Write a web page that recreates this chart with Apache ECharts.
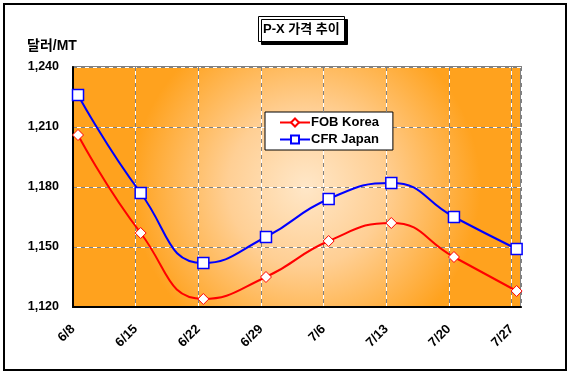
<!DOCTYPE html>
<html>
<head>
<meta charset="utf-8">
<script src="https://cdn.jsdelivr.net/npm/echarts@6/dist/echarts.min.js"></script>
<style>
html,body{margin:0;padding:0;background:#fff;}
#chart{width:573px;height:375px;}
</style>
</head>
<body>
<div id="chart"></div>
<script>
var categories = ['6/8','6/15','6/22','6/29','7/6','7/13','7/20','7/27'];
var fobKorea = [1206, 1157, 1124, 1135, 1153, 1162, 1145, 1128];
var cfrJapan = [1226, 1177, 1142, 1155, 1174, 1182, 1165, 1149];
var yTicks = [1120, 1150, 1180, 1210, 1240];
var titleText = 'P-X 가격 추이';
var unitText = '달러/MT';

var FONT = '"Liberation Sans", Arial, "Noto Sans CJK KR", sans-serif';
var xMin = -0.08, xMax = categories.length - 1 + 0.07;

function toPairs(arr){ return arr.map(function(v,i){ return [i, v]; }); }

var chart = echarts.init(document.getElementById('chart'), null, {renderer:'canvas'});
chart.setOption({
  animation:false,
  backgroundColor:'#fff',
  title:{
    text:titleText, left:258, top:16, padding:[5,5],
    backgroundColor:'#fff', borderColor:'#000', borderWidth:1,
    shadowColor:'#000', shadowBlur:0, shadowOffsetX:3, shadowOffsetY:3,
    textStyle:{fontFamily:FONT, fontSize:13, fontWeight:'bold', color:'#000', lineHeight:16}
  },
  legend:{
    orient:'vertical', left:265, top:112, padding:[4,14,4,14],
    backgroundColor:'#fff', borderColor:'#000', borderWidth:1,
    itemWidth:30, itemHeight:10, itemGap:4,
    textStyle:{fontFamily:FONT, fontSize:13, fontWeight:'bold', color:'#000', padding:[0,0,0,-4]},
    data:['FOB Korea','CFR Japan']
  },
  grid:{
    left:73, top:67, right:52, bottom:68, show:true,
    borderColor:'#808080', borderWidth:2,
    backgroundColor:{type:'radial', x:0.52, y:0.5, r:0.72,
      colorStops:[{offset:0,color:'#FFE7C8'},{offset:0.45,color:'#FFCF94'},{offset:1,color:'#FFA21E'}]}
  },
  xAxis:[{
    type:'value', min:xMin, max:xMax, interval:1, z:3,
    axisLine:{show:true, onZero:false, lineStyle:{color:'#000', width:2}},
    axisTick:{show:false},
    axisLabel:{rotate:45, margin:20, showMaxLabel:false, fontFamily:FONT, fontSize:13, fontWeight:'bold', color:'#000',
      formatter:function(v){ var i=Math.round(v - xMin); return categories[i] || ''; }},
    splitLine:{show:true, lineStyle:{color:'#808080', width:1, type:[4,4]}}
  },{
    type:'value', min:xMin, max:xMax, interval:1, z:1,
    axisLine:{show:false}, axisTick:{show:false}, axisLabel:{show:false},
    splitLine:{show:true, lineStyle:{color:'#fff', width:1, type:'solid'}}
  }],
  yAxis:[{
    type:'value', min:yTicks[0], max:yTicks[yTicks.length-1], interval:yTicks[1]-yTicks[0], z:3,
    axisLine:{show:true, onZero:false, lineStyle:{color:'#000', width:2}},
    axisTick:{show:false},
    axisLabel:{margin:14, fontFamily:FONT, fontSize:12.5, fontWeight:'bold', color:'#000',
      formatter:function(v){ return v.toLocaleString('en-US'); }},
    splitLine:{show:true, lineStyle:{color:'#808080', width:1, type:[4,4]}}
  },{
    type:'value', min:yTicks[0], max:yTicks[yTicks.length-1], interval:yTicks[1]-yTicks[0], z:1,
    axisLine:{show:false, onZero:false}, axisTick:{show:false}, axisLabel:{show:false},
    splitLine:{show:true, lineStyle:{color:'#fff', width:1, type:'solid'}}
  }],
  graphic:[
    {type:'rect', shape:{x:4, y:4, width:562, height:366}, style:{fill:null, stroke:'#000', lineWidth:2}, silent:true, z:10},
    {type:'text', left:27, top:39, style:{text:unitText, font:'bold 14px ' + FONT, fill:'#000'}}
  ],
  series:[{
    name:'FOB Korea', type:'line', data:toPairs(fobKorea), smooth:0.5, z:5,
    symbol:'diamond', symbolSize:11,
    lineStyle:{color:'#FF0000', width:2},
    itemStyle:{color:'#fff', borderColor:'#FF0000', borderWidth:1}
  },{
    name:'CFR Japan', type:'line', data:toPairs(cfrJapan), smooth:0.5, z:5,
    symbol:'rect', symbolSize:11,
    lineStyle:{color:'#0000FF', width:2},
    itemStyle:{color:'#fff', borderColor:'#0000FF', borderWidth:1.5}
  }]
});
</script>
</body>
</html>
